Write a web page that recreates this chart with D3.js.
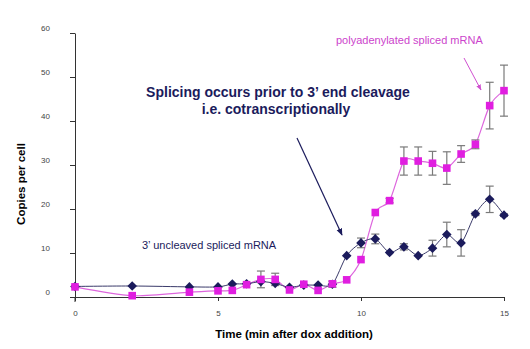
<!DOCTYPE html>
<html>
<head>
<meta charset="utf-8">
<script src="https://cdn.jsdelivr.net/npm/d3@7"></script>
<style>
  html, body { margin: 0; padding: 0; background: #fff; }
  svg { display: block; font-family: Arial, "Liberation Sans", sans-serif; }
</style>
</head>
<body>
<svg id="chart" width="530" height="349"></svg>
<script>
// Sampling times (min after dox addition)
const uncleavedTimes = [0, 2, 4, 5, 5.5, 6, 6.5, 7, 7.5, 8, 8.5, 9, 9.5, 10, 10.5, 11, 11.5, 12, 12.5, 13, 13.5, 14, 14.5, 15];
const uncleavedValues = [2.4, 2.5, 2.3, 2.3, 2.95, 3.0, 3.5, 3.1, 2.2, 2.7, 2.7, 2.9, 9.4, 12.3, 13.2, 10.1, 11.4, 9.4, 11.1, 14.2, 12.3, 18.9, 22.2, 18.6];
const uncleavedErrors = [0, 0, 0, 0, 0, 0, 0, 0, 0, 0, 0, 0.7, 0, 1.1, 1.1, 0, 0.7, 0, 1.8, 2.8, 3.0, 0.4, 3.0, 0.3];

const polyATimes = [0, 2, 4, 5, 5.5, 6, 6.5, 7, 7.5, 8, 8.5, 9, 9.5, 10, 10.5, 11, 11.5, 12, 12.5, 13, 13.5, 14, 14.5, 15];
const polyAValues = [2.3, 0.3, 1.1, 1.4, 1.5, 2.8, 4.0, 4.0, 1.6, 2.9, 1.5, 3.0, 3.9, 8.5, 19.2, 21.9, 30.9, 30.9, 30.4, 29.3, 32.5, 34.7, 43.5, 46.9];
const polyAErrors = [0, 0, 0, 0, 0, 0, 1.9, 1.4, 0, 0, 0, 0, 0, 0, 0, 0.5, 3.2, 3.2, 2.7, 3.7, 1.9, 1.0, 5.3, 5.8];

const xTicks = [0, 5, 10, 15];
const yTicks = [0, 10, 20, 30, 40, 50, 60];

const navy = "#1b1b5c";
const magenta = "#e01ee0";
const errGrey = "#7a7a7a";

const svg = d3.select("#chart");
const x = d3.scaleLinear().domain([0, 15]).range([75, 504]);
const y = d3.scaleLinear().domain([0, 60]).range([297, 33]);

// Axes
const xAxis = svg.append("g").attr("transform", "translate(0,297)")
  .call(d3.axisBottom(x).tickValues(xTicks).tickSize(4).tickSizeOuter(0).tickPadding(9));
const yAxis = svg.append("g").attr("transform", "translate(75,0)")
  .call(d3.axisLeft(y).tickValues(yTicks).tickSize(5).tickSizeOuter(0).tickPadding(20));
[xAxis, yAxis].forEach(g => {
  g.select(".domain").attr("stroke", "#333").attr("stroke-width", 1);
  g.selectAll(".tick line").attr("stroke", "#333");
  g.selectAll(".tick text").attr("fill", "#444").style("font-size", "8px").style("font-family", "Arial, 'Liberation Sans', sans-serif");
});
yAxis.selectAll(".tick text").attr("dy", "-0.3em");
// y axis runs slightly past the x axis
yAxis.append("line").attr("x1", 0).attr("x2", 0).attr("y1", 297).attr("y2", 302).attr("stroke", "#333");

// Axis titles
svg.append("text").attr("x", 294).attr("y", 338).attr("text-anchor", "middle")
  .attr("font-weight", "bold").attr("font-size", 11.5).attr("fill", "#000")
  .text("Time (min after dox addition)");
svg.append("text").attr("transform", "translate(25,184) rotate(-90)").attr("text-anchor", "middle")
  .attr("font-weight", "bold").attr("font-size", 11.5).attr("fill", "#000")
  .text("Copies per cell");

const curve = d3.curveCardinal.tension(0.2);
const line = d3.line().x(d => x(d.t)).y(d => y(d.v)).curve(curve);

const uncleaved = uncleavedTimes.map((t, i) => ({ t, v: uncleavedValues[i], e: uncleavedErrors[i] }));
const polyA = polyATimes.map((t, i) => ({ t, v: polyAValues[i], e: polyAErrors[i] }));

// Series lines
svg.append("path").datum(polyA).attr("d", line).attr("fill", "none")
  .attr("stroke", "#dd66dd").attr("stroke-width", 1.2);
svg.append("path").datum(uncleaved).attr("d", line).attr("fill", "none")
  .attr("stroke", "#3a3a6a").attr("stroke-width", 1);

// Error bars
function errorBars(data) {
  const g = svg.append("g").attr("stroke", errGrey).attr("stroke-width", 1.2);
  data.filter(d => d.e > 0).forEach(d => {
    const cx = x(d.t), y1 = y(d.v + d.e), y2 = y(d.v - d.e);
    g.append("line").attr("x1", cx).attr("x2", cx).attr("y1", y1).attr("y2", y2);
    g.append("line").attr("x1", cx - 4).attr("x2", cx + 4).attr("y1", y1).attr("y2", y1);
    g.append("line").attr("x1", cx - 4).attr("x2", cx + 4).attr("y1", y2).attr("y2", y2);
  });
}
errorBars(uncleaved);
errorBars(polyA);

// Markers
svg.append("g").selectAll("path").data(uncleaved).join("path")
  .attr("d", "M0,-4.8L4.8,0L0,4.8L-4.8,0Z")
  .attr("transform", d => `translate(${x(d.t)},${y(d.v)})`)
  .attr("fill", navy);
svg.append("g").selectAll("rect").data(polyA).join("rect")
  .attr("x", d => x(d.t) - 3.8).attr("y", d => y(d.v) - 3.8)
  .attr("width", 7.6).attr("height", 7.6).attr("fill", magenta);

// Annotations
svg.append("defs").html(`
  <marker id="navyHead" viewBox="0 0 10 10" refX="9" refY="5" markerWidth="6" markerHeight="6" orient="auto">
    <path d="M0,1L10,5L0,9Z" fill="${navy}"/>
  </marker>
  <marker id="pinkHead" viewBox="0 0 10 10" refX="9" refY="5" markerWidth="6" markerHeight="6" orient="auto">
    <path d="M0,1L10,5L0,9Z" fill="#d050d0"/>
  </marker>`);

svg.append("text").attr("x", 278).attr("y", 97).attr("text-anchor", "middle")
  .attr("font-weight", "bold").attr("font-size", 14).attr("fill", navy)
  .text("Splicing occurs prior to 3\u2019 end cleavage");
svg.append("text").attr("x", 276).attr("y", 114).attr("text-anchor", "middle")
  .attr("font-weight", "bold").attr("font-size", 14).attr("fill", navy)
  .text("i.e. cotranscriptionally");
svg.append("line").attr("x1", 297).attr("y1", 138).attr("x2", 342).attr("y2", 235)
  .attr("stroke", navy).attr("stroke-width", 1.2).attr("marker-end", "url(#navyHead)");

svg.append("text").attr("x", 142).attr("y", 249).attr("font-size", 11).attr("fill", navy)
  .text("3\u2019 uncleaved spliced mRNA");

svg.append("text").attr("x", 336).attr("y", 44).attr("font-size", 11).attr("fill", "#cc44cc")
  .text("polyadenylated spliced mRNA");
svg.append("line").attr("x1", 464).attr("y1", 58).attr("x2", 481).attr("y2", 90)
  .attr("stroke", "#d050d0").attr("stroke-width", 1).attr("marker-end", "url(#pinkHead)");
</script>
</body>
</html>
